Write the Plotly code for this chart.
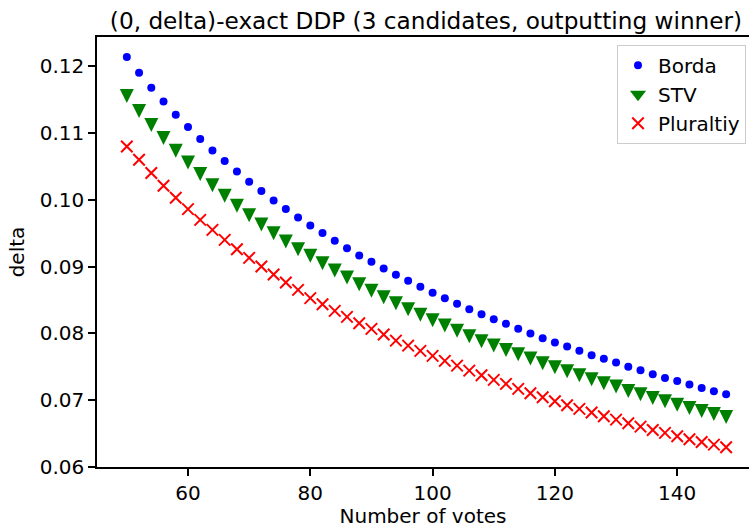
import plotly.graph_objects as go

# Number of votes (x) and delta for each voting rule
votes = list(range(50, 150, 2))

borda = [0.12141, 0.11906, 0.11681, 0.11475, 0.11276, 0.11091, 0.10911, 0.10740, 0.10581, 0.10425,
         0.10271, 0.10131, 0.09990, 0.09861, 0.09735, 0.09615, 0.09501, 0.09386, 0.09276, 0.09165,
         0.09071, 0.08970, 0.08876, 0.08786, 0.08696, 0.08606, 0.08526, 0.08441, 0.08361, 0.08286,
         0.08211, 0.08141, 0.08066, 0.07995, 0.07926, 0.07860, 0.07800, 0.07736, 0.07671, 0.07616,
         0.07560, 0.07496, 0.07446, 0.07386, 0.07331, 0.07286, 0.07230, 0.07181, 0.07131, 0.07086]

stv = [0.11556, 0.11333, 0.11121, 0.10926, 0.10736, 0.10559, 0.10386, 0.10218, 0.10060, 0.09913,
       0.09768, 0.09630, 0.09500, 0.09375, 0.09260, 0.09161, 0.09051, 0.08940, 0.08835, 0.08736,
       0.08636, 0.08541, 0.08451, 0.08361, 0.08276, 0.08196, 0.08115, 0.08036, 0.07956, 0.07881,
       0.07815, 0.07748, 0.07684, 0.07620, 0.07551, 0.07491, 0.07431, 0.07371, 0.07311, 0.07251,
       0.07200, 0.07136, 0.07086, 0.07031, 0.06981, 0.06930, 0.06881, 0.06836, 0.06791, 0.06746]

plurality = [0.10800, 0.10601, 0.10401, 0.10211, 0.10031, 0.09861, 0.09700, 0.09550, 0.09400, 0.09260,
             0.09130, 0.09000, 0.08880, 0.08760, 0.08650, 0.08526, 0.08436, 0.08336, 0.08246, 0.08151,
             0.08066, 0.07980, 0.07890, 0.07815, 0.07736, 0.07661, 0.07586, 0.07515, 0.07440, 0.07371,
             0.07301, 0.07241, 0.07166, 0.07101, 0.07041, 0.06981, 0.06921, 0.06866, 0.06811, 0.06756,
             0.06705, 0.06651, 0.06600, 0.06550, 0.06506, 0.06456, 0.06411, 0.06371, 0.06330, 0.06291]

x_ticks = [60, 80, 100, 120, 140]
y_ticks = [0.06, 0.07, 0.08, 0.09, 0.10, 0.11, 0.12]

FONT = "DejaVu Sans"
GREEN = "#008000"

fig = go.Figure()
fig.add_trace(go.Scatter(
    x=votes, y=borda, mode="markers", name="Borda", legendgroup="a",
    marker=dict(symbol="circle", size=8, color="#0000ff"),
))
# STV points: downward triangle, shifted so it is centred on the value
fig.add_trace(go.Scatter(
    x=votes, y=stv, mode="markers", name="STV", legendgroup="b", showlegend=False,
    marker=dict(symbol="arrow-down", size=14, color=GREEN, standoff=7),
))
# legend swatch for STV
fig.add_trace(go.Scatter(
    x=[None], y=[None], mode="markers", name="STV", legendgroup="b",
    marker=dict(symbol="triangle-down", size=14, color=GREEN),
))
fig.add_trace(go.Scatter(
    x=votes, y=plurality, mode="markers", name="Pluraltiy", legendgroup="c",
    marker=dict(symbol="x-thin", size=11.5, color="#ff0000",
                line=dict(color="#ff0000", width=2)),
))

fig.update_layout(
    width=749, height=528,
    margin=dict(l=97, r=0, t=37, b=61),
    paper_bgcolor="white", plot_bgcolor="white",
    font=dict(family=FONT, size=20, color="black"),
    title=dict(
        text="(0, delta)-exact DDP (3 candidates, outputting winner)",
        font=dict(family=FONT, size=23.2, color="black"),
        xref="paper", yref="paper", x=0.5046, y=1,
        xanchor="center", yanchor="bottom", pad=dict(b=8),
    ),
    showlegend=True,
    legend=dict(
        x=0.9954, y=0.982, xanchor="right", yanchor="top",
        bgcolor="rgba(255,255,255,0.8)", bordercolor="#cccccc", borderwidth=1,
        font=dict(family=FONT, size=20, color="black"),
        traceorder="grouped", tracegroupgap=0,
    ),
    xaxis=dict(
        range=[45.12, 151.74], tickvals=x_ticks, ticktext=[str(v) for v in x_ticks],
        showline=True, linecolor="black", linewidth=1.5, mirror=True,
        ticks="outside", ticklen=7, tickwidth=1.5, tickcolor="black",
        showgrid=False, zeroline=False,
        title=dict(text="Number of votes", font=dict(family=FONT, size=20), standoff=8),
        automargin=False,
    ),
    yaxis=dict(
        range=[0.05995, 0.12441], tickvals=y_ticks, ticktext=[f"{v:.2f}" for v in y_ticks],
        showline=True, linecolor="black", linewidth=1.5, mirror=False,
        ticks="outside", ticklen=7, tickwidth=1.5, tickcolor="black",
        showgrid=False, zeroline=False,
        title=dict(text="delta", font=dict(family=FONT, size=20), standoff=10),
        automargin=False,
    ),
)

fig.write_html("out.html")
